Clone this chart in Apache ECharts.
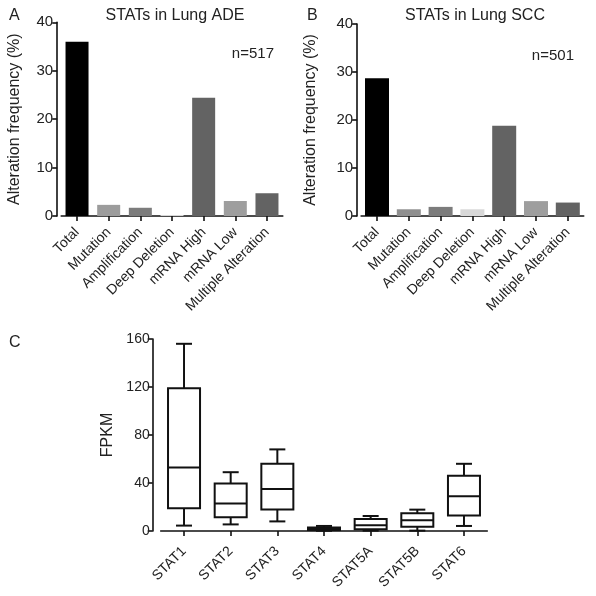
<!DOCTYPE html>
<html>
<head>
<meta charset="utf-8">
<script src="https://cdn.jsdelivr.net/npm/echarts@6/dist/echarts.min.js"></script>
<style>html,body{margin:0;padding:0;background:#fff;}#c{width:596px;height:596px;}</style>
</head>
<body>
<div id="c"></div>
<script>
const alterCategories = ['Total', 'Mutation', 'Amplification', 'Deep Deletion', 'mRNA High', 'mRNA Low', 'Multiple Alteration'];
const adeValues = [36.0, 2.3, 1.7, 0.2, 24.4, 3.1, 4.7];
const sccValues = [28.7, 1.4, 1.9, 1.4, 18.8, 3.1, 2.8];
const adeColors = ['#000000', '#9c9c9c', '#7c7c7c', '#dcdcdc', '#636363', '#9e9e9e', '#636363'];
const sccColors = ['#000000', '#8f8f8f', '#7c7c7c', '#d8d8d8', '#636363', '#9e9e9e', '#636363'];
const statCategories = ['STAT1', 'STAT2', 'STAT3', 'STAT4', 'STAT5A', 'STAT5B', 'STAT6'];
// [min, Q1, median, Q3, max]
const statBoxes = [
  [4.5, 19, 53, 119, 156],
  [5.5, 11.5, 23, 39.5, 49],
  [8, 18, 35, 56, 68],
  [0.2, 0.8, 1.8, 3.0, 4.2],
  [0.3, 1.5, 4.7, 10, 12.5],
  [0.3, 3.6, 9, 14.7, 17.8],
  [4.2, 13, 29, 46, 56]
];
const barTicks = {min: 0, max: 40, interval: 10};
const fpkmTicks = {min: 0, max: 160, interval: 40};

const FONT = 'Liberation Sans, Arial, sans-serif';
const axisLine = {show: true, lineStyle: {color: '#111', width: 1.6}};
const axisTick = {show: true, length: 5, lineStyle: {color: '#111', width: 1.6}};

function barX(gridIndex) {
  return {
    type: 'category', gridIndex, data: alterCategories,
    axisLine, axisTick: Object.assign({alignWithLabel: true}, axisTick),
    axisLabel: {rotate: 45, fontSize: 14, color: '#222', fontFamily: FONT, margin: 14, interval: 0}
  };
}
function barY(gridIndex, gap) {
  return {
    type: 'value', gridIndex, min: barTicks.min, max: barTicks.max, interval: barTicks.interval,
    offset: 4, splitLine: {show: false}, axisLine, axisTick,
    axisLabel: {fontSize: 15, color: '#222', fontFamily: FONT, margin: 4},
    name: 'Alteration frequency (%)', nameLocation: 'middle', nameGap: gap,
    nameTextStyle: {fontSize: 16, color: '#222', fontFamily: FONT}
  };
}

const chart = echarts.init(document.getElementById('c'));
chart.setOption({
  animation: false,
  backgroundColor: '#fff',
  textStyle: {fontFamily: FONT},
  title: [
    {text: 'STATs in Lung ADE', left: 170, top: 3, textAlign: 'center', textStyle: {fontSize: 16, fontWeight: 'normal', color: '#222', fontFamily: FONT}},
    {text: 'STATs in Lung SCC', left: 470, top: 3, textAlign: 'center', textStyle: {fontSize: 16, fontWeight: 'normal', color: '#222', fontFamily: FONT}},
    {text: 'A', left: 4, top: 3, textStyle: {fontSize: 16, fontWeight: 'normal', color: '#222', fontFamily: FONT}},
    {text: 'B', left: 302, top: 3, textStyle: {fontSize: 16, fontWeight: 'normal', color: '#222', fontFamily: FONT}},
    {text: 'C', left: 4, top: 330, textStyle: {fontSize: 16, fontWeight: 'normal', color: '#222', fontFamily: FONT}},
    {text: 'n=517', right: 317, top: 41, textStyle: {fontSize: 15, fontWeight: 'normal', color: '#222', fontFamily: FONT}},
    {text: 'n=501', right: 17, top: 43, textStyle: {fontSize: 15, fontWeight: 'normal', color: '#222', fontFamily: FONT}}
  ],
  grid: [
    {left: 61.2, top: 22.3, width: 221.6, height: 193.7},
    {left: 361.1, top: 24, width: 222.6, height: 192},
    {left: 160.7, top: 339, width: 326.6, height: 192}
  ],
  xAxis: [
    barX(0), barX(1),
    {
      type: 'category', gridIndex: 2, data: statCategories,
      axisLine, axisTick: Object.assign({alignWithLabel: true}, axisTick),
      axisLabel: {rotate: 45, fontSize: 14, color: '#222', fontFamily: FONT, margin: 18, interval: 0}
    }
  ],
  yAxis: [
    barY(0, 35), barY(1, 39),
    {
      type: 'value', gridIndex: 2, min: fpkmTicks.min, max: fpkmTicks.max, interval: fpkmTicks.interval,
      offset: 8, splitLine: {show: false}, axisLine, axisTick,
      axisLabel: {fontSize: 14, color: '#222', fontFamily: FONT, margin: 3},
      name: 'FPKM', nameLocation: 'middle', nameGap: 35,
      nameTextStyle: {fontSize: 16, color: '#222', fontFamily: FONT}
    }
  ],
  series: [
    {
      type: 'bar', xAxisIndex: 0, yAxisIndex: 0, barWidth: 23,
      data: adeValues.map((v, i) => ({value: v, itemStyle: {color: adeColors[i]}}))
    },
    {
      type: 'bar', xAxisIndex: 1, yAxisIndex: 1, barWidth: 24,
      data: sccValues.map((v, i) => ({value: v, itemStyle: {color: sccColors[i]}}))
    },
    {
      type: 'custom', xAxisIndex: 2, yAxisIndex: 2,
      data: statBoxes.map((b, i) => [i].concat(b)),
      encode: {x: 0, y: [1, 2, 3, 4, 5]},
      renderItem: function (params, api) {
        const x = api.value(0);
        const mn = api.coord([x, api.value(1)]);
        const q1 = api.coord([x, api.value(2)]);
        const md = api.coord([x, api.value(3)]);
        const q3 = api.coord([x, api.value(4)]);
        const mx = api.coord([x, api.value(5)]);
        const bw = api.size([1, 0])[0] * 0.686;
        const hb = bw / 2, hc = bw / 4;
        const cx = mn[0];
        const st = {stroke: '#111', lineWidth: 2, fill: null};
        return {
          type: 'group',
          children: [
            {type: 'rect', shape: {x: cx - hb, y: q3[1], width: bw, height: q1[1] - q3[1]}, style: {stroke: '#111', lineWidth: 2, fill: '#fff'}},
            {type: 'line', shape: {x1: cx - hb, y1: md[1], x2: cx + hb, y2: md[1]}, style: st},
            {type: 'line', shape: {x1: cx, y1: q3[1], x2: cx, y2: mx[1]}, style: st},
            {type: 'line', shape: {x1: cx, y1: q1[1], x2: cx, y2: mn[1]}, style: st},
            {type: 'line', shape: {x1: cx - hc, y1: mx[1], x2: cx + hc, y2: mx[1]}, style: st},
            {type: 'line', shape: {x1: cx - hc, y1: mn[1], x2: cx + hc, y2: mn[1]}, style: st}
          ]
        };
      }
    }
  ]
});
</script>
</body>
</html>
